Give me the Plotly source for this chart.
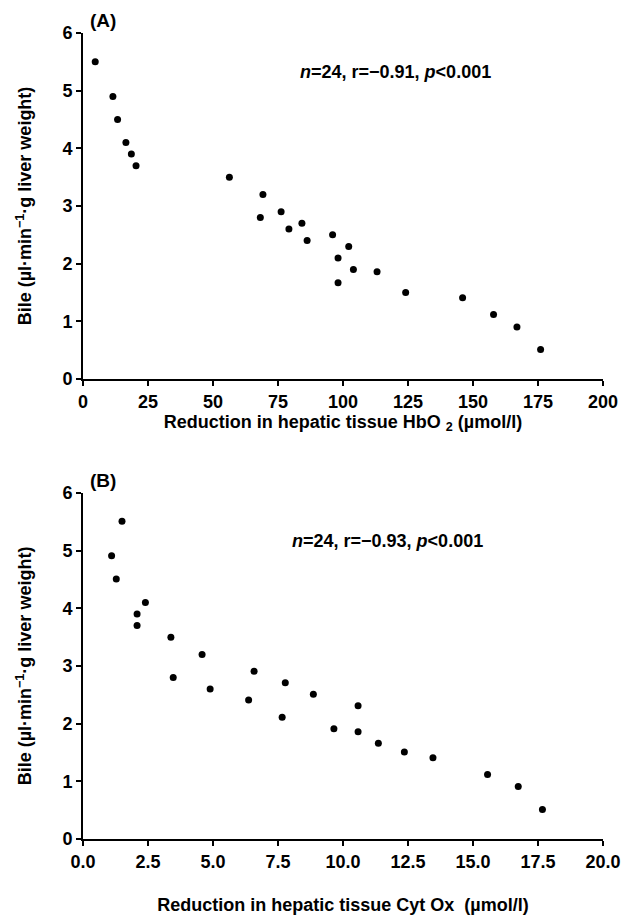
import plotly.graph_objects as go

# panel A: reduction in hepatic tissue HbO2 vs bile flow
hbo2_reduction = [4.7, 11.5, 13.3, 16.5, 18.6, 20.4, 56.3, 69.2, 68.2, 76.2, 79.2, 84.2,
                  86.2, 96.0, 102.2, 98.1, 104.0, 98.1, 113.1, 124.1, 146.0, 157.9, 166.9, 176.0]
bile_a = [5.5, 4.9, 4.5, 4.1, 3.9, 3.7, 3.5, 3.2, 2.8, 2.9, 2.6, 2.7,
          2.4, 2.5, 2.3, 2.1, 1.9, 1.67, 1.86, 1.5, 1.41, 1.12, 0.9, 0.51]

# panel B: reduction in hepatic tissue Cyt Ox vs bile flow
cytox_reduction = [1.50, 1.10, 1.28, 2.08, 2.08, 2.40, 3.38, 3.47, 4.58, 4.89, 6.37, 6.58,
                   7.78, 7.66, 8.86, 10.58, 9.65, 10.58, 11.36, 12.36, 13.46, 15.56, 16.74, 17.67]
bile_b = [5.51, 4.91, 4.51, 3.90, 3.70, 4.10, 3.50, 2.80, 3.20, 2.60, 2.41, 2.91,
          2.71, 2.11, 2.51, 2.31, 1.91, 1.86, 1.66, 1.51, 1.41, 1.12, 0.91, 0.51]

x_ticks_a = [0, 25, 50, 75, 100, 125, 150, 175, 200]
x_ticks_b = [0.0, 2.5, 5.0, 7.5, 10.0, 12.5, 15.0, 17.5, 20.0]
y_ticks = [0, 1, 2, 3, 4, 5, 6]

FONT = "Liberation Sans, Arial, sans-serif"
tick_font = dict(family=FONT, size=18, color="black", weight="bold")
title_font = dict(family=FONT, size=18, color="black", weight="bold")
y_title = "Bile (µl·min<sup>−1</sup>·g liver weight)"

fig = go.Figure()
fig.add_trace(go.Scatter(x=hbo2_reduction, y=bile_a, mode="markers", xaxis="x", yaxis="y",
                         marker=dict(color="black", size=7), cliponaxis=False, showlegend=False))
fig.add_trace(go.Scatter(x=cytox_reduction, y=bile_b, mode="markers", xaxis="x2", yaxis="y2",
                         marker=dict(color="black", size=7), cliponaxis=False, showlegend=False))

axis_style = dict(showline=True, linecolor="black", linewidth=2, showgrid=False, zeroline=False,
                  ticks="outside", ticklen=5, tickwidth=2, tickcolor="black", tickfont=tick_font,
                  automargin=False)

fig.update_layout(
    width=629, height=915,
    margin=dict(l=83, r=26, t=33, b=76),
    plot_bgcolor="white", paper_bgcolor="white",
    xaxis=dict(axis_style, domain=[0, 1], anchor="y", range=[0, 200], tickvals=x_ticks_a,
               title=dict(text="Reduction in hepatic tissue HbO <sub>2</sub> (µmol/l)", font=title_font, standoff=0)),
    yaxis=dict(axis_style, domain=[0.5707, 1], anchor="x", range=[0, 6], tickvals=y_ticks,
               title=dict(text=y_title, font=title_font, standoff=26)),
    xaxis2=dict(axis_style, domain=[0, 1], anchor="y2", range=[0, 20], tickvals=x_ticks_b,
                ticktext=["%.1f" % v for v in x_ticks_b],
                title=dict(text="Reduction in hepatic tissue Cyt Ox  (µmol/l)", font=title_font, standoff=32)),
    yaxis2=dict(axis_style, domain=[0, 0.4293], anchor="x2", range=[0, 6], tickvals=y_ticks,
                title=dict(text=y_title, font=title_font, standoff=26)),
)

stat_font = dict(family=FONT, size=18, color="black", weight="bold")
fig.add_annotation(x=120, y=5.33, xref="x", yref="y", showarrow=False, font=stat_font,
                   text="<i>n</i>=24, r=−0.91, <i>p</i>&lt;0.001")
fig.add_annotation(x=11.7, y=5.17, xref="x2", yref="y2", showarrow=False, font=stat_font,
                   text="<i>n</i>=24, r=−0.93, <i>p</i>&lt;0.001")

label_font = dict(family=FONT, size=19, color="black", weight="bold")
fig.add_annotation(x=0.038, y=1.035, xref="x domain", yref="y domain", showarrow=False,
                   xanchor="center", yanchor="middle", font=label_font, text="(A)")
fig.add_annotation(x=0.038, y=1.035, xref="x2 domain", yref="y2 domain", showarrow=False,
                   xanchor="center", yanchor="middle", font=label_font, text="(B)")

# drop the default body margin so the figure sits at the window origin
fig.write_html("out.html", config={"displayModeBar": False},
               post_script="document.body.style.margin='0';")
